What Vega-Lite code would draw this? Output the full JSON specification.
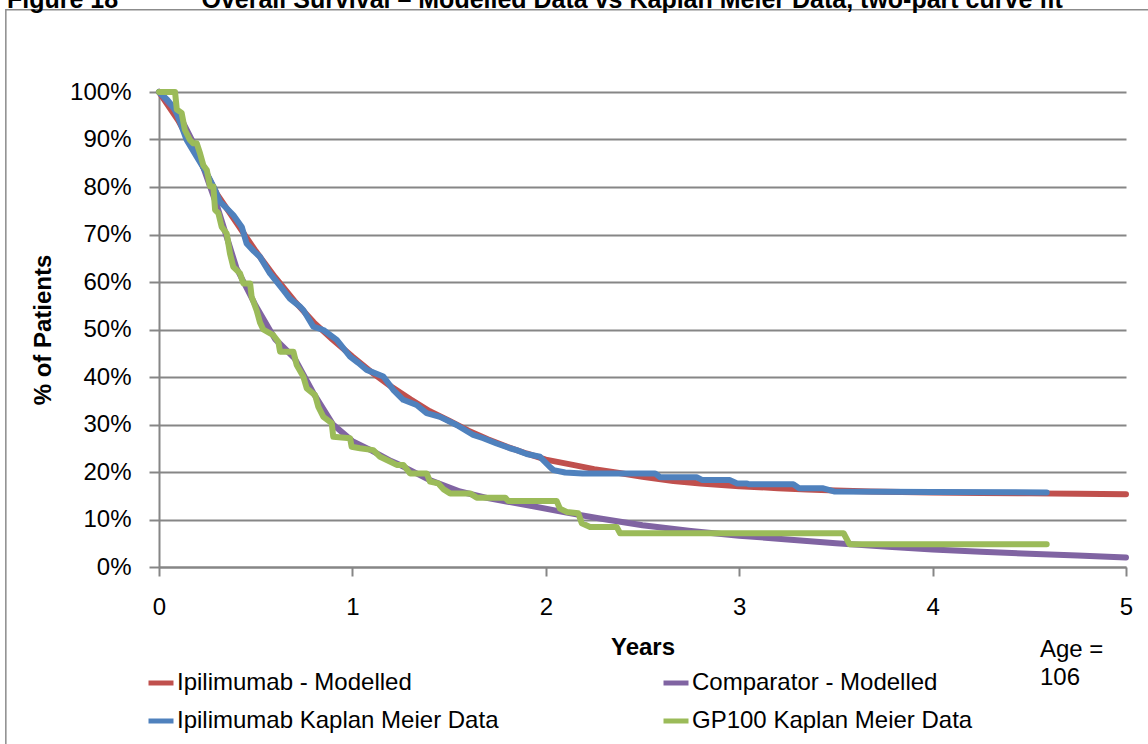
{
  "$schema": "https://vega.github.io/schema/vega-lite/v6.json",
  "width": 967,
  "height": 475,
  "autosize": "none",
  "padding": {"left": 159, "top": 92, "right": 22, "bottom": 177},
  "background": "white",
  "config": {
    "font": "Liberation Sans",
    "view": {"stroke": null},
    "axis": {"labelColor": "black", "titleColor": "black"}
  },
  "datasets": {
    "red": [
      {"t": 0, "p": 100}, {"t": 0.1, "p": 94}, {"t": 0.2, "p": 86.5}, {"t": 0.3, "p": 78.5},
      {"t": 0.4, "p": 72.5}, {"t": 0.5, "p": 66.5}, {"t": 0.6, "p": 61}, {"t": 0.7, "p": 56},
      {"t": 0.8, "p": 51.5}, {"t": 0.9, "p": 47.8}, {"t": 1.0, "p": 44.3}, {"t": 1.1, "p": 41},
      {"t": 1.2, "p": 38}, {"t": 1.3, "p": 35.3}, {"t": 1.4, "p": 32.8}, {"t": 1.5, "p": 30.8},
      {"t": 1.6, "p": 28.7}, {"t": 1.7, "p": 26.9}, {"t": 1.8, "p": 25.3}, {"t": 1.9, "p": 23.9},
      {"t": 2.0, "p": 22.6}, {"t": 2.14, "p": 21.5}, {"t": 2.25, "p": 20.6}, {"t": 2.38, "p": 19.8},
      {"t": 2.5, "p": 19.0}, {"t": 2.66, "p": 18.1}, {"t": 2.8, "p": 17.6}, {"t": 3.0, "p": 17.0},
      {"t": 3.2, "p": 16.6}, {"t": 3.35, "p": 16.3}, {"t": 3.5, "p": 16.1}, {"t": 3.68, "p": 15.9},
      {"t": 4.0, "p": 15.7}, {"t": 4.25, "p": 15.6}, {"t": 4.5, "p": 15.5}, {"t": 4.75, "p": 15.4},
      {"t": 5.0, "p": 15.3}
    ],
    "purple": [
      {"t": 0, "p": 100}, {"t": 0.1, "p": 95.5}, {"t": 0.2, "p": 87.5}, {"t": 0.3, "p": 76},
      {"t": 0.4, "p": 63}, {"t": 0.5, "p": 55}, {"t": 0.6, "p": 48}, {"t": 0.7, "p": 44},
      {"t": 0.8, "p": 36.5}, {"t": 0.9, "p": 30}, {"t": 1.0, "p": 26.5}, {"t": 1.1, "p": 24.5},
      {"t": 1.2, "p": 22.3}, {"t": 1.25, "p": 21.4}, {"t": 1.4, "p": 18.3}, {"t": 1.556, "p": 15.9},
      {"t": 1.7, "p": 14.5}, {"t": 1.9, "p": 13.05}, {"t": 2.1, "p": 11.5}, {"t": 2.28, "p": 10.2},
      {"t": 2.5, "p": 8.8}, {"t": 2.75, "p": 7.6}, {"t": 3.0, "p": 6.6}, {"t": 3.25, "p": 5.8},
      {"t": 3.5, "p": 5.0}, {"t": 3.75, "p": 4.3}, {"t": 4.0, "p": 3.7}, {"t": 4.25, "p": 3.2},
      {"t": 4.5, "p": 2.8}, {"t": 4.75, "p": 2.4}, {"t": 5.0, "p": 2.0}
    ],
    "blue": [
      {"t": 0, "p": 100}, {"t": 0.04, "p": 98.5}, {"t": 0.072, "p": 96.9}, {"t": 0.092, "p": 95.5},
      {"t": 0.143, "p": 89.9}, {"t": 0.195, "p": 86.4}, {"t": 0.247, "p": 82.9}, {"t": 0.29, "p": 79.4},
      {"t": 0.315, "p": 76.9}, {"t": 0.35, "p": 75.5}, {"t": 0.384, "p": 74.1}, {"t": 0.428, "p": 71.6},
      {"t": 0.453, "p": 68.1}, {"t": 0.49, "p": 66.5}, {"t": 0.522, "p": 65.3}, {"t": 0.574, "p": 61.8},
      {"t": 0.6, "p": 60.5}, {"t": 0.643, "p": 58.3}, {"t": 0.677, "p": 56.5}, {"t": 0.729, "p": 54.8},
      {"t": 0.746, "p": 54.1}, {"t": 0.798, "p": 50.6}, {"t": 0.85, "p": 49.9}, {"t": 0.919, "p": 47.8},
      {"t": 0.988, "p": 44.3}, {"t": 1.03, "p": 43.0}, {"t": 1.074, "p": 41.5}, {"t": 1.16, "p": 40.1},
      {"t": 1.211, "p": 37.3}, {"t": 1.263, "p": 35.2}, {"t": 1.332, "p": 34.1}, {"t": 1.384, "p": 32.4},
      {"t": 1.453, "p": 31.6}, {"t": 1.539, "p": 29.9}, {"t": 1.625, "p": 27.8}, {"t": 1.677, "p": 27.1},
      {"t": 1.746, "p": 26.0}, {"t": 1.815, "p": 25.0}, {"t": 1.849, "p": 24.6}, {"t": 1.901, "p": 23.8},
      {"t": 1.97, "p": 23.2}, {"t": 2.02, "p": 21.1}, {"t": 2.04, "p": 20.4}, {"t": 2.1, "p": 19.9},
      {"t": 2.19, "p": 19.7}, {"t": 2.565, "p": 19.7}, {"t": 2.59, "p": 18.9}, {"t": 2.78, "p": 18.9},
      {"t": 2.81, "p": 18.3}, {"t": 2.95, "p": 18.3}, {"t": 2.99, "p": 17.6}, {"t": 3.04, "p": 17.6},
      {"t": 3.05, "p": 17.4}, {"t": 3.28, "p": 17.4}, {"t": 3.31, "p": 16.6}, {"t": 3.43, "p": 16.6},
      {"t": 3.49, "p": 15.9}, {"t": 4.0, "p": 15.8}, {"t": 4.59, "p": 15.7}
    ],
    "green": [
      {"t": 0, "p": 100}, {"t": 0.083, "p": 100}, {"t": 0.092, "p": 96.3}, {"t": 0.117, "p": 95.6},
      {"t": 0.134, "p": 92.0}, {"t": 0.16, "p": 89.9}, {"t": 0.177, "p": 89.2}, {"t": 0.195, "p": 89.2},
      {"t": 0.212, "p": 87.1}, {"t": 0.229, "p": 84.6}, {"t": 0.247, "p": 83.6}, {"t": 0.264, "p": 80.1},
      {"t": 0.281, "p": 80.1}, {"t": 0.29, "p": 75.2}, {"t": 0.307, "p": 74.5}, {"t": 0.324, "p": 71.6},
      {"t": 0.35, "p": 70.2}, {"t": 0.367, "p": 66.0}, {"t": 0.384, "p": 63.2}, {"t": 0.419, "p": 61.8},
      {"t": 0.436, "p": 59.7}, {"t": 0.471, "p": 59.7}, {"t": 0.479, "p": 56.9}, {"t": 0.505, "p": 54.0},
      {"t": 0.522, "p": 51.5}, {"t": 0.539, "p": 50.0}, {"t": 0.591, "p": 48.8}, {"t": 0.617, "p": 47.4},
      {"t": 0.626, "p": 45.3}, {"t": 0.695, "p": 45.3}, {"t": 0.712, "p": 42.5}, {"t": 0.746, "p": 40.1},
      {"t": 0.764, "p": 37.6}, {"t": 0.807, "p": 36.2}, {"t": 0.824, "p": 33.7}, {"t": 0.85, "p": 31.6},
      {"t": 0.893, "p": 30.3}, {"t": 0.901, "p": 27.4}, {"t": 0.988, "p": 27.1}, {"t": 0.996, "p": 25.3},
      {"t": 1.039, "p": 25.0}, {"t": 1.108, "p": 24.6}, {"t": 1.143, "p": 23.2}, {"t": 1.194, "p": 22.2},
      {"t": 1.229, "p": 21.5}, {"t": 1.263, "p": 21.5}, {"t": 1.298, "p": 19.7}, {"t": 1.384, "p": 19.7},
      {"t": 1.401, "p": 18.0}, {"t": 1.444, "p": 17.6}, {"t": 1.47, "p": 16.4}, {"t": 1.505, "p": 15.5},
      {"t": 1.608, "p": 15.5}, {"t": 1.643, "p": 14.6}, {"t": 1.79, "p": 14.6}, {"t": 1.806, "p": 13.9},
      {"t": 2.056, "p": 13.9}, {"t": 2.073, "p": 12.3}, {"t": 2.108, "p": 11.6}, {"t": 2.168, "p": 11.3},
      {"t": 2.186, "p": 9.2}, {"t": 2.229, "p": 8.4}, {"t": 2.367, "p": 8.4}, {"t": 2.384, "p": 7.1},
      {"t": 3.54, "p": 7.1}, {"t": 3.57, "p": 4.8}, {"t": 4.59, "p": 4.8}
    ],
    "note": [{"label": "Age =\n106"}],
    "heading": [{"label": "Figure 18\u00a0\u00a0\u00a0\u00a0\u00a0\u00a0\u00a0\u00a0\u00a0\u00a0\u00a0\u00a0Overall Survival – Modelled Data vs Kaplan Meier Data, two-part curve fit"}],
    "frame": [{"part": "chart area"}]
  },
  "layer": [
    {
      "data": {"name": "frame"},
      "mark": {"type": "rect", "filled": false, "stroke": "#8c8c8c", "strokeWidth": 1.5},
      "encoding": {
        "x": {"datum": -0.792, "type": "quantitative", "scale": {"domain": [0, 5], "nice": false, "zero": false},
          "axis": {"values": [0, 1, 2, 3, 4, 5], "format": "d", "labelFlush": false, "grid": false, "domainColor": "#868686", "domainWidth": 2,
            "tickColor": "#868686", "tickWidth": 2, "tickSize": 9, "labelFontSize": 24, "labelPadding": 19,
            "title": "Years", "titleFontSize": 24, "titleFontWeight": "bold", "titlePadding": 16}},
        "x2": {"datum": 5.15},
        "y": {"datum": 117.3, "type": "quantitative", "scale": {"domain": [0, 100], "nice": false, "zero": false},
          "axis": {"values": [0, 10, 20, 30, 40, 50, 60, 70, 80, 90, 100], "labelExpr": "datum.value + '%'", "labelFlush": false,
            "grid": true, "gridColor": "#868686", "gridWidth": 2, "domainColor": "#868686", "domainWidth": 2,
            "tickColor": "#868686", "tickWidth": 2, "tickSize": 10, "labelFontSize": 24, "labelPadding": 18,
            "title": "% of Patients", "titleFontSize": 24, "titleFontWeight": "bold", "titlePadding": 14}},
        "y2": {"datum": -40}
      }
    },
    {
      "data": {"name": "red"},
      "mark": {"type": "line", "strokeWidth": 6, "strokeCap": "round", "strokeJoin": "round"},
      "encoding": {
        "x": {"field": "t", "type": "quantitative"},
        "y": {"field": "p", "type": "quantitative"},
        "color": {"datum": "Ipilimumab - Modelled", "type": "nominal",
          "scale": {"domain": ["Ipilimumab - Modelled", "Comparator - Modelled", "Ipilimumab Kaplan Meier Data", "GP100 Kaplan Meier Data"],
            "range": ["#C0504D", "#8064A2", "#4F81BD", "#9BBB59"]},
          "legend": {"title": null, "orient": "none", "legendX": -13, "legendY": 576, "columns": 2, "direction": "horizontal",
            "columnPadding": 154, "rowPadding": 11, "symbolType": "stroke", "symbolSize": 625, "symbolStrokeWidth": 5,
            "labelFontSize": 24, "labelColor": "black", "labelOffset": 1, "labelLimit": 400, "padding": 0}}
      }
    },
    {
      "data": {"name": "purple"},
      "mark": {"type": "line", "strokeWidth": 6, "strokeCap": "round", "strokeJoin": "round"},
      "encoding": {
        "x": {"field": "t", "type": "quantitative"},
        "y": {"field": "p", "type": "quantitative"},
        "color": {"datum": "Comparator - Modelled", "type": "nominal"}
      }
    },
    {
      "data": {"name": "blue"},
      "mark": {"type": "line", "strokeWidth": 6, "strokeCap": "round", "strokeJoin": "round"},
      "encoding": {
        "x": {"field": "t", "type": "quantitative"},
        "y": {"field": "p", "type": "quantitative"},
        "color": {"datum": "Ipilimumab Kaplan Meier Data", "type": "nominal"}
      }
    },
    {
      "data": {"name": "green"},
      "mark": {"type": "line", "strokeWidth": 6, "strokeCap": "round", "strokeJoin": "round"},
      "encoding": {
        "x": {"field": "t", "type": "quantitative"},
        "y": {"field": "p", "type": "quantitative"},
        "color": {"datum": "GP100 Kaplan Meier Data", "type": "nominal"}
      }
    },
    {
      "data": {"name": "note"},
      "mark": {"type": "text", "align": "left", "baseline": "top", "fontSize": 24, "lineBreak": "\n", "lineHeight": 28, "color": "black"},
      "encoding": {
        "x": {"datum": 4.555, "type": "quantitative"},
        "y": {"datum": -15, "type": "quantitative"},
        "text": {"field": "label"}
      }
    },
    {
      "data": {"name": "heading"},
      "mark": {"type": "text", "align": "left", "baseline": "alphabetic", "fontSize": 25, "fontWeight": "bold", "color": "black"},
      "encoding": {
        "x": {"datum": -0.786, "type": "quantitative"},
        "y": {"datum": 117.7, "type": "quantitative"},
        "text": {"field": "label"}
      }
    }
  ]
}
